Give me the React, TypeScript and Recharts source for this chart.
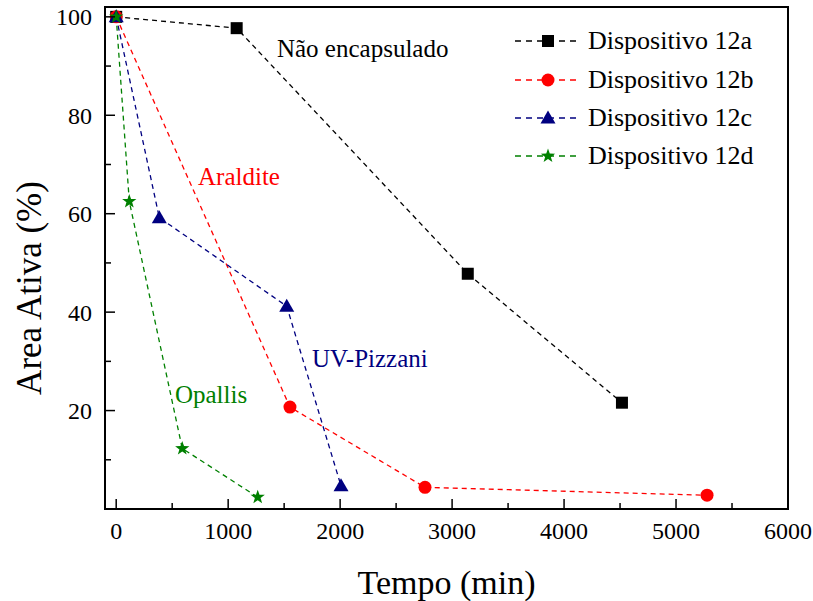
import { LineChart, Line, XAxis, YAxis, ReferenceArea, ReferenceDot } from 'recharts';

const FONT = "'Liberation Serif', 'Times New Roman', serif";

const timeA = [0, 1076, 3140, 4517];
const areaA = [100, 97.7, 47.8, 21.6];
const timeB = [0, 1552, 2758, 5277];
const areaB = [100, 20.7, 4.4, 2.8];
const timeC = [0, 385, 1523, 2008];
const areaC = [100, 59.2, 41.2, 4.7];
const timeD = [0, 117, 590, 1264];
const areaD = [100, 62.5, 12.3, 2.4];

const xTicks = [0, 500, 1000, 1500, 2000, 2500, 3000, 3500, 4000, 4500, 5000, 5500, 6000];
const yTicks = [10, 20, 30, 40, 50, 60, 70, 80, 90, 100];

const seriesNames = ['Dispositivo 12a', 'Dispositivo 12b', 'Dispositivo 12c', 'Dispositivo 12d'];
const seriesColors = ['#000000', '#ff0000', '#000080', '#008000'];
const seriesShapes = ['square', 'circle', 'triangle', 'star'];

const toPoints = (ts: number[], vs: number[]) => ts.map((t, i) => ({ t, v: vs[i] }));
const allSeries = [
  toPoints(timeA, areaA),
  toPoints(timeB, areaB),
  toPoints(timeC, areaC),
  toPoints(timeD, areaD),
];

function starPath(cx: number, cy: number, ro: number, ri: number) {
  let d = '';
  for (let i = 0; i < 10; i++) {
    const r = i % 2 === 0 ? ro : ri;
    const a = -Math.PI / 2 + (i * Math.PI) / 5;
    d += (i === 0 ? 'M' : 'L') + (cx + r * Math.cos(a)).toFixed(2) + ',' + (cy + r * Math.sin(a)).toFixed(2);
  }
  return d + 'Z';
}

function Marker({ shape, cx, cy, color }: { shape: string; cx: number; cy: number; color: string }) {
  if (shape === 'square') return <rect x={cx - 6} y={cy - 6} width={12} height={12} fill={color} />;
  if (shape === 'circle') return <circle cx={cx} cy={cy} r={6.5} fill={color} />;
  if (shape === 'triangle')
    return <path d={`M${cx},${cy - 7.5}L${cx + 7.5},${cy + 5.5}L${cx - 7.5},${cy + 5.5}Z`} fill={color} />;
  return <path d={starPath(cx, cy, 7.5, 3)} fill={color} />;
}

const XTick = (props: any) => {
  const { x, y, payload } = props;
  const major = payload.value % 1000 === 0;
  return (
    <g>
      <line x1={x} x2={x} y1={y} y2={y - (major ? 10 : 6)} stroke="#000" strokeWidth={1.5} />
      {major && (
        <text x={x} y={y + 30} textAnchor="middle" fontSize={24} fontFamily={FONT} fill="#000">
          {payload.value}
        </text>
      )}
    </g>
  );
};

const YTick = (props: any) => {
  const { x, y, payload } = props;
  const major = payload.value % 20 === 0;
  return (
    <g>
      <line x1={x} x2={x + (major ? 10 : 6)} y1={y} y2={y} stroke="#000" strokeWidth={1.5} />
      {major && (
        <text x={x - 13} y={y + 8.5} textAnchor="end" fontSize={24} fontFamily={FONT} fill="#000">
          {payload.value}
        </text>
      )}
    </g>
  );
};

const note = (text: string, color: string) => (p: any) => (
  <text x={p.cx} y={p.cy} fontSize={25} fontFamily={FONT} fill={color}>
    {text}
  </text>
);

export default function App() {
  return (
    <div style={{ position: 'absolute', left: 0, top: 0, width: 813, height: 601, background: '#fff' }}>
      <LineChart width={813} height={601} margin={{ top: 7, right: 25, bottom: 0, left: 0 }}>
        <XAxis
          type="number"
          dataKey="t"
          domain={[-100, 6000]}
          ticks={xTicks}
          interval={0}
          tickSize={0}
          tickMargin={0}
          tick={<XTick />}
          height={92}
          axisLine={{ stroke: '#000', strokeWidth: 2 }}
          label={{
            content: (p: any) => (
              <text
                x={p.viewBox.x + p.viewBox.width / 2}
                y={594}
                textAnchor="middle"
                fontSize={34}
                fontFamily={FONT}
                fill="#000"
              >
                Tempo (min)
              </text>
            ),
          }}
        />
        <YAxis
          type="number"
          domain={[0, 102]}
          ticks={yTicks}
          interval={0}
          tickSize={0}
          tickMargin={0}
          tick={<YTick />}
          width={105}
          axisLine={{ stroke: '#000', strokeWidth: 2 }}
          label={{
            content: () => (
              <text
                transform="translate(41, 288) rotate(-90)"
                textAnchor="middle"
                fontSize={35}
                fontFamily={FONT}
                fill="#000"
              >
                Area Ativa (%)
              </text>
            ),
          }}
        />
        <ReferenceArea x1={-100} x2={6000} y1={0} y2={102} fill="none" stroke="#000" strokeWidth={2} />
        {allSeries.map((data, s) => (
          <Line
            key={seriesNames[s]}
            data={data}
            dataKey="v"
            name={seriesNames[s]}
            type="linear"
            stroke={seriesColors[s]}
            strokeWidth={1.3}
            strokeDasharray="5 4"
            isAnimationActive={false}
            dot={(p: any) => (
              <Marker key={`${s}-${p.index}`} shape={seriesShapes[s]} cx={p.cx} cy={p.cy} color={seriesColors[s]} />
            )}
            activeDot={false}
          />
        ))}
        <ReferenceDot x={1436} y={91.8} r={0} shape={note('Não encapsulado', '#000')} />
        <ReferenceDot x={731} y={65.8} r={0} shape={note('Araldite', '#ff0000')} />
        <ReferenceDot x={1749} y={28.9} r={0} shape={note('UV-Pizzani', '#000080')} />
        <ReferenceDot x={525} y={21.5} r={0} shape={note('Opallis', '#008000')} />
      </LineChart>
      <div style={{ position: 'absolute', left: 515, top: 22, fontFamily: FONT, fontSize: 26 }}>
        {seriesNames.map((name, s) => (
          <div key={name} style={{ display: 'flex', alignItems: 'center', height: 38.4 }}>
            <svg width={66} height={20} style={{ display: 'block' }}>
              <line x1={0} x2={66} y1={10} y2={10} stroke={seriesColors[s]} strokeWidth={1.3} strokeDasharray="6 5" />
              <Marker shape={seriesShapes[s]} cx={33} cy={10} color={seriesColors[s]} />
            </svg>
            <span style={{ marginLeft: 7, lineHeight: 1, whiteSpace: 'nowrap' }}>{name}</span>
          </div>
        ))}
      </div>
    </div>
  );
}
